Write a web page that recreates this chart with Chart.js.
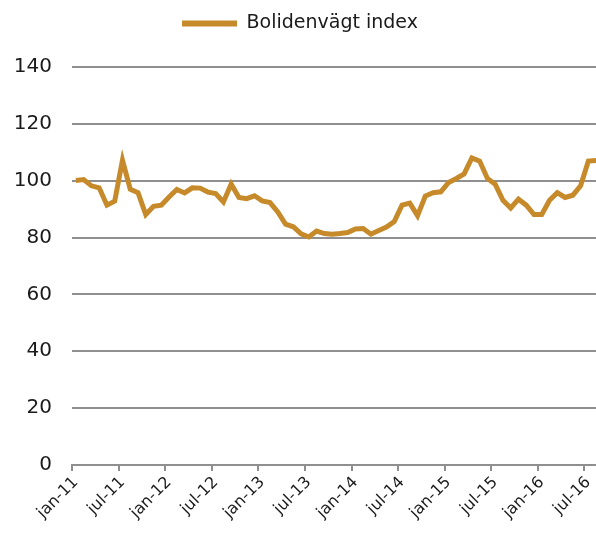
<!DOCTYPE html>
<html>
<head>
<meta charset="utf-8">
<script src="https://cdn.jsdelivr.net/npm/chart.js@4.4.1/dist/chart.umd.min.js"></script>
<style>
  html, body { margin: 0; padding: 0; background: #fff; overflow: hidden; }
  #wrap { position: relative; width: 600px; height: 538px; }
</style>
</head>
<body>
<div id="wrap"><canvas id="chart"></canvas></div>
<script>
// Bolidenvägt index, monthly jan-11 .. aug-16
const monthNames = ['jan', 'feb', 'mar', 'apr', 'maj', 'jun', 'jul', 'aug', 'sep', 'okt', 'nov', 'dec'];
const years = ['11', '12', '13', '14', '15', '16'];
const lastMonthCount = 8; // 2016 ends in aug

const indexValues = [
    100.1, 100.4, 98.2, 97.5, 91.4, 92.8, 107.2, 97.0, 95.8, 88.1, 91.0, 91.4,
    94.3, 96.9, 95.7, 97.5, 97.4, 96.0, 95.5, 92.5, 98.8, 94.1, 93.7, 94.7,
    92.9, 92.3, 89.0, 84.7, 83.8, 81.3, 80.2, 82.3, 81.4, 81.2, 81.4, 81.8,
    83.0, 83.2, 81.2, 82.5, 83.7, 85.6, 91.4, 92.1, 87.7, 94.6, 95.8, 96.1,
    99.4, 100.8, 102.4, 108.0, 106.9, 100.8, 98.8, 93.1, 90.4, 93.5, 91.4, 88.1,
    88.1, 93.1, 95.8, 94.1, 94.9, 98.2, 106.9, 107.1
];

const yTicks = [0, 20, 40, 60, 80, 100, 120, 140];

const categories = [];
years.forEach((yr, k) => {
    const n = k === years.length - 1 ? lastMonthCount : 12;
    for (let m = 0; m < n; m++) categories.push(monthNames[m] + '-' + yr);
});

const lineColor = '#c78a2a';
const gridColor = '#8f8f8f';
const textColor = '#1a1a1a';
const fontFamily = "'DejaVu Sans', sans-serif";

// legend sits near the top edge, chart area starts lower
const legendLift = {
    id: 'legendLift',
    afterLayout(chart) {
        const lg = chart.legend;
        if (!lg) return;
        lg.top -= 24;
        lg.bottom -= 24;
    }
};

const ctx = document.getElementById('chart');
new Chart(ctx, {
    type: 'line',
    data: {
        labels: categories,
        datasets: [{
            label: 'Bolidenvägt index',
            data: indexValues,
            borderColor: lineColor,
            backgroundColor: lineColor,
            borderWidth: 5,
            pointRadius: 0,
            tension: 0,
            fill: false
        }]
    },
    options: {
        responsive: true,
        maintainAspectRatio: false,
        animation: false,
        layout: { padding: { top: 4, left: 0, right: 0, bottom: 0 } },
        plugins: {
            tooltip: { enabled: false },
            legend: {
                position: 'top',
                labels: {
                    color: textColor,
                    font: { family: fontFamily, size: 19 },
                    boxWidth: 55,
                    boxHeight: 6,
                    padding: 10,
                    generateLabels: chart => chart.data.datasets.map((ds, i) => ({
                        text: ds.label,
                        fillStyle: ds.borderColor,
                        strokeStyle: ds.borderColor,
                        lineWidth: 0,
                        datasetIndex: i,
                        fontColor: textColor
                    }))
                }
            }
        },
        scales: {
            x: {
                offset: true,
                grid: {
                    offset: true,
                    drawOnChartArea: false,
                    drawTicks: true,
                    tickLength: 6,
                    lineWidth: 2,
                    color: c => (c.index % 6 === 0 ? gridColor : 'rgba(0,0,0,0)')
                },
                border: { display: true, color: gridColor, width: 2 },
                ticks: {
                    autoSkip: false,
                    maxRotation: 45,
                    minRotation: 45,
                    padding: 2,
                    color: textColor,
                    font: { family: fontFamily, size: 16 },
                    callback: function (value, index) {
                        return index % 6 === 0 ? this.getLabelForValue(value) : '';
                    }
                },
                afterFit: s => {
                    s.height = 73;
                    s.paddingLeft = 0;
                    s.paddingRight = 0;
                }
            },
            y: {
                min: yTicks[0],
                max: yTicks[yTicks.length - 1],
                afterBuildTicks: s => { s.ticks = yTicks.map(v => ({ value: v })); },
                grid: {
                    color: gridColor,
                    lineWidth: 2,
                    drawTicks: false
                },
                border: { display: false },
                ticks: {
                    padding: 20,
                    color: textColor,
                    font: { family: fontFamily, size: 20 }
                },
                afterFit: s => {
                    s.width = 72;
                    s.paddingTop = 67;
                    s.paddingBottom = 0;
                }
            }
        }
    },
    plugins: [legendLift]
});
</script>
</body>
</html>
